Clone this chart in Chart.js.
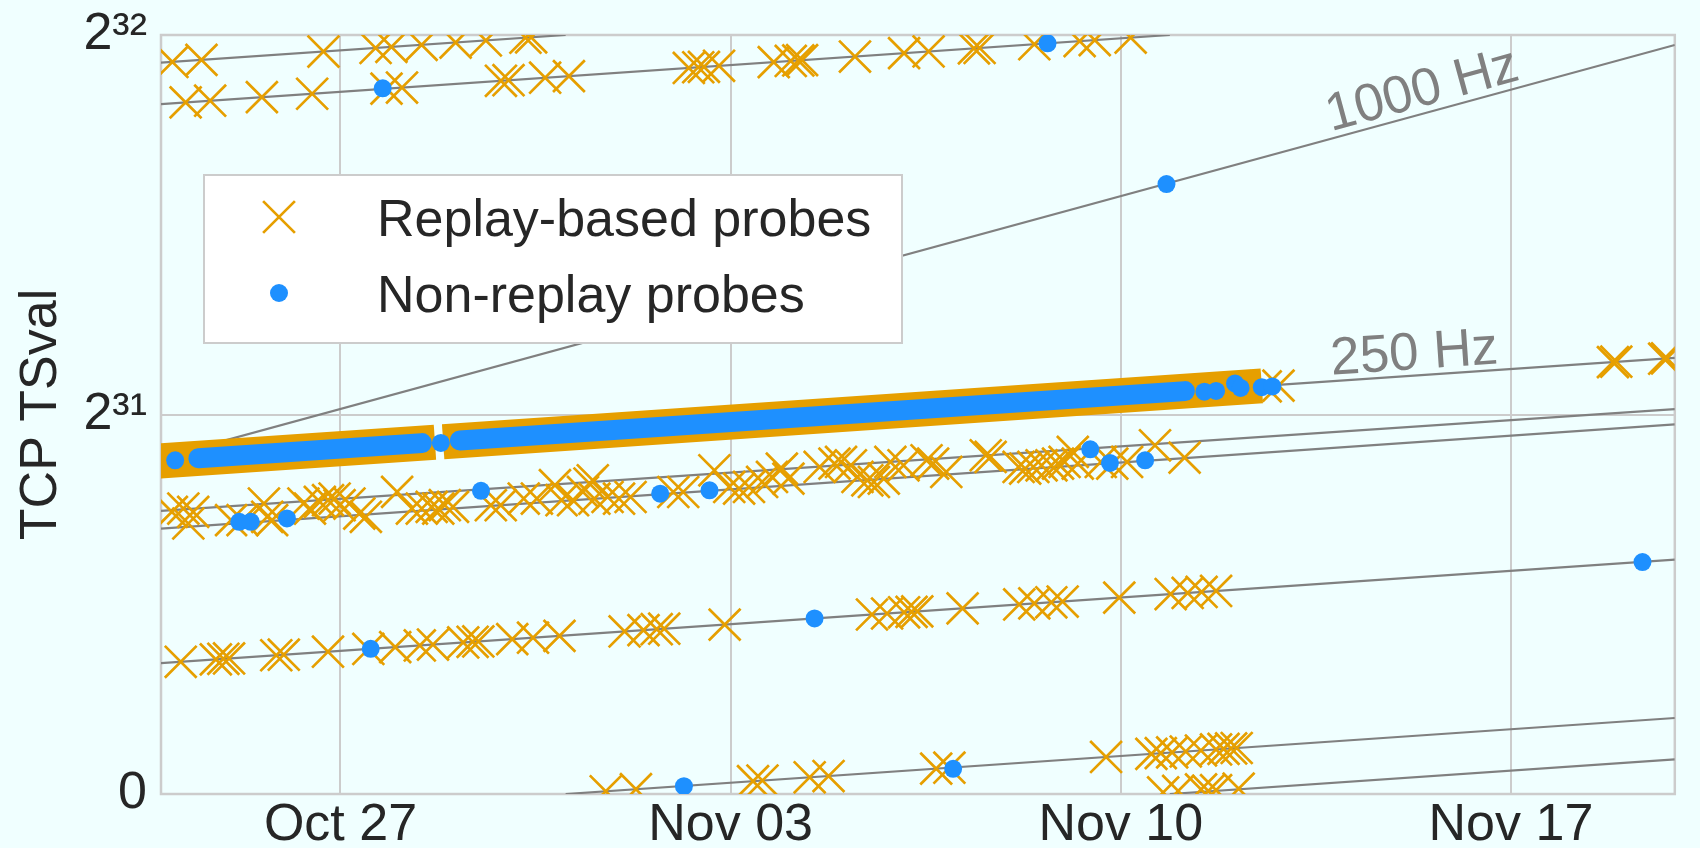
<!DOCTYPE html>
<html>
<head>
<meta charset="utf-8">
<script src="https://cdn.jsdelivr.net/npm/chart.js@4.4.1/dist/chart.umd.min.js"></script>
<style>
  html, body { margin: 0; padding: 0; background: #f0ffff; }
  #wrap { width: 1700px; height: 848px; }
</style>
</head>
<body>
<div id="wrap"><canvas id="tsChart" width="1700" height="848"></canvas></div>
<script>
// x = days since Oct 27 00:00, y = TSval as a fraction of 2^32
const xRange = [-3.22, 23.94];
const xTickDays = [0, 7, 14, 21];
const xTickLabels = ["Oct 27", "Nov 03", "Nov 10", "Nov 17"];
const yTickValues = [0, 0.5, 1];
const yTickLabels = ["0", "2³¹", "2³²"];

// fitted clock lines: [startDay, startVal, endDay, endVal]
const clockLines = [
  [-3.22, 0.9635, 4.04, 1.0],
  [4.04, 0.0, 23.94, 0.1001],
  [-3.22, 0.9090, 14.88, 1.0],
  [14.88, 0.0, 23.94, 0.0455],
  [-3.22, 0.4389, 23.94, 0.5747],  // 250 Hz
  [-3.22, 0.3729, 23.94, 0.5070],
  [-3.22, 0.3496, 23.94, 0.4870],
  [-3.22, 0.1724, 23.94, 0.3088],
  [-3.22, 0.4428, 23.94, 0.9868]   // 1000 Hz
];

// the dense stream of probes along the 250 Hz line
const replayBand = [[-3.4, 0.438, 1.695, 0.4635], [1.842, 0.4642, 16.53, 0.5377]];
const nonReplayBand = [[-2.55, 0.4423, 1.46, 0.4623], [2.14, 0.4657, 15.15, 0.5308]];

// replay-based probes [day, TSval/2^32]
const replayTop = [
  [-3.015, 0.9645], [-2.494, 0.9672], [-0.305, 0.9782], [0.630, 0.9829], [0.914, 0.9843],
  [1.456, 0.9870], [2.066, 0.9901], [2.608, 0.9928], [3.319, 0.9964], [3.421, 0.9969],
  [-2.778, 0.9112], [-2.338, 0.9134], [-1.410, 0.9181], [-0.508, 0.9226], [0.826, 0.9294],
  [1.104, 0.9308], [2.879, 0.9397], [3.015, 0.9404], [3.672, 0.9437], [4.099, 0.9458],
  [6.250, 0.9566], [6.419, 0.9575], [6.521, 0.9580], [6.792, 0.9594], [7.774, 0.9643],
  [8.079, 0.9658], [8.214, 0.9665], [8.282, 0.9669], [9.231, 0.9716], [10.112, 0.9761],
  [10.552, 0.9783], [11.365, 0.9824], [11.467, 0.9829], [12.449, 0.9878], [13.262, 0.9919],
  [13.533, 0.9933], [14.177, 0.9965]
];
const replayMiddle = [
  [-3.025, 0.3717], [-2.819, 0.3761], [-2.642, 0.3717], [-2.730, 0.3564], [-1.963, 0.3608],
  [-1.757, 0.3608], [-1.373, 0.3827], [-1.314, 0.3652], [-1.226, 0.3608], [-0.665, 0.3827],
  [-0.547, 0.3761], [-0.370, 0.3849], [-0.223, 0.3871], [-0.105, 0.3893], [-0.016, 0.3805],
  [0.161, 0.3827], [0.338, 0.3695], [0.456, 0.3652], [1.016, 0.3981], [1.282, 0.3761],
  [1.459, 0.3761], [1.636, 0.3783], [1.754, 0.3761], [1.872, 0.3805], [2.019, 0.3783],
  [2.698, 0.3805], [2.875, 0.3805], [3.288, 0.3893], [3.524, 0.3893], [3.848, 0.4068],
  [3.966, 0.3871], [4.173, 0.3871], [4.350, 0.3981], [4.468, 0.4090],
  [4.527, 0.4133], [4.556, 0.3891], [4.792, 0.3913], [4.998, 0.3891], [5.205, 0.3913],
  [5.972, 0.3979], [6.149, 0.3979], [6.709, 0.4265], [6.975, 0.4045], [7.152, 0.4023],
  [7.329, 0.4045], [7.565, 0.4111], [7.742, 0.4177], [7.919, 0.4287], [8.037, 0.4155],
  [8.597, 0.4309], [8.863, 0.4353], [8.981, 0.4375], [9.158, 0.4331], [9.276, 0.4177],
  [9.453, 0.4133], [9.571, 0.4111], [9.748, 0.4155], [9.866, 0.4375], [10.102, 0.4331],
  [10.515, 0.4397], [10.633, 0.4353], [10.869, 0.4243], [11.577, 0.4463], [11.665, 0.4441],
  [12.167, 0.4309], [12.285, 0.4287], [12.431, 0.4309], [12.579, 0.4331], [12.756, 0.4331],
  [12.874, 0.4353], [12.992, 0.4375], [13.139, 0.4507], [13.228, 0.4353], [13.641, 0.4375],
  [13.847, 0.4353], [14.113, 0.4375], [14.614, 0.4594], [15.145, 0.4432],
  [16.60, 0.5370], [16.83, 0.5380],
  [22.83, 0.5690], [22.89, 0.5696], [23.75, 0.5735], [23.80, 0.5740]
];
const replayLower = [
  [-2.866, 0.1742], [-2.236, 0.1774], [-2.101, 0.1781], [-1.999, 0.1786], [-1.152, 0.1828],
  [-1.017, 0.1835], [-0.224, 0.1875], [0.500, 0.1911], [0.982, 0.1935], [1.423, 0.1957],
  [1.660, 0.1969], [2.202, 0.1997], [2.371, 0.2005], [2.473, 0.2010], [3.082, 0.2041],
  [3.455, 0.2059], [3.929, 0.2083], [5.098, 0.2142], [5.437, 0.2159], [5.674, 0.2171],
  [5.809, 0.2178], [6.893, 0.2232], [9.536, 0.2365], [9.807, 0.2378], [10.112, 0.2394],
  [10.247, 0.2400], [10.349, 0.2406], [11.162, 0.2446], [12.178, 0.2497], [12.449, 0.2511],
  [12.754, 0.2526], [12.957, 0.2536], [13.973, 0.2587], [14.895, 0.2634], [15.200, 0.2649],
  [15.450, 0.2662], [15.710, 0.2675]
];
const replayBottom = [
  [4.759, 0.0036], [5.301, 0.0063], [7.402, 0.0169], [7.571, 0.0178], [8.418, 0.0220],
  [8.757, 0.0237], [10.688, 0.0334], [10.925, 0.0346], [13.736, 0.0488], [14.549, 0.0529],
  [14.718, 0.0538], [14.922, 0.0548], [15.166, 0.0560], [15.438, 0.0573], [15.709, 0.0587],
  [15.844, 0.0594], [15.980, 0.0600], [16.080, 0.0606],
  [14.76, 0.002], [15.03, 0.004], [15.44, 0.006], [15.57, 0.004], [15.71, 0.005], [16.115, 0.007]
];

// non-replay probes [day, TSval/2^32]
const nonReplayProbes = [
  [0.758, 0.9297], [12.686, 0.9890], [14.82, 0.8036],
  [-2.966, 0.4397], [1.801, 0.4625], [15.50, 0.5300], [15.71, 0.5310], [16.05, 0.5410],
  [16.15, 0.5350], [16.53, 0.5360], [16.72, 0.5370],
  [-1.816, 0.3586], [-1.609, 0.3586], [-0.960, 0.3630], [2.521, 0.3994], [5.736, 0.3957],
  [6.621, 0.4001], [13.452, 0.4542], [13.806, 0.4362], [14.437, 0.4397],
  [0.542, 0.1913], [8.506, 0.2313], [23.36, 0.3056],
  [6.162, 0.0103], [10.992, 0.0332]
];

const ORANGE = "#e69f00";
const BLUE = "#1e90ff";
const GRID = "#cccccc";
const LINE_GRAY = "#808080";
const TEXT = "#262626";
const FONT = "'Liberation Sans', Arial, sans-serif";

Chart.defaults.font.family = FONT;
Chart.defaults.color = TEXT;

const toPts = (arr) => arr.map(([x, y]) => ({ x, y }));
const segPts = (s) => [{ x: s[0], y: s[1] }, { x: s[2], y: s[3] }];

const datasets = [];
datasets.push({
  label: "Non-replay probes",
  data: toPts(nonReplayProbes),
  pointStyle: "circle",
  pointRadius: 9,
  pointBackgroundColor: BLUE,
  pointBorderWidth: 0,
  showLine: false,
  order: 0,
  clip: 0
});
nonReplayBand.forEach((s) => datasets.push({
  data: segPts(s), showLine: true, borderColor: BLUE, borderWidth: 20,
  borderCapStyle: "round", pointRadius: 0, order: 1, clip: 0
}));
datasets.push({
  label: "Replay-based probes",
  data: toPts([...replayTop, ...replayMiddle, ...replayLower, ...replayBottom]),
  pointStyle: "crossRot",
  pointRadius: 22.5,
  pointBorderColor: ORANGE,
  pointBackgroundColor: ORANGE,
  pointBorderWidth: 2.7,
  showLine: false,
  order: 2,
  clip: 0
});
replayBand.forEach((s) => datasets.push({
  data: segPts(s), showLine: true, borderColor: ORANGE, borderWidth: 35,
  borderCapStyle: "butt", pointRadius: 0, order: 3, clip: 0
}));
clockLines.forEach((s) => datasets.push({
  data: segPts(s), showLine: true, borderColor: LINE_GRAY, borderWidth: 2.2,
  pointRadius: 0, order: 4, clip: 0
}));

// labels for the clock rates, placed along their lines
const rateLabels = [
  { text: "1000 Hz", day: 19.39, val: 0.9315, line: 8 },
  { text: "250 Hz", day: 19.26, val: 0.5847, line: 4 }
];

const decor = {
  id: "decor",
  beforeDraw(chart) {
    const { ctx, width, height } = chart;
    ctx.save();
    ctx.fillStyle = "#f0ffff";
    ctx.fillRect(0, 0, width, height);
    ctx.restore();
  },
  beforeDatasetsDraw(chart) {
    const { ctx, chartArea: a } = chart;
    ctx.save();
    ctx.strokeStyle = GRID;
    ctx.lineWidth = 2.5;
    ctx.strokeRect(a.left, a.top, a.right - a.left, a.bottom - a.top);
    ctx.restore();
  },
  afterDatasetsDraw(chart) {
    const { ctx, chartArea: a } = chart;
    const xs = chart.scales.x, ys = chart.scales.y;

    // rate labels
    rateLabels.forEach((r) => {
      const l = clockLines[r.line];
      const ang = Math.atan2(
        ys.getPixelForValue(l[3]) - ys.getPixelForValue(l[1]),
        xs.getPixelForValue(l[2]) - xs.getPixelForValue(l[0])
      );
      ctx.save();
      ctx.translate(xs.getPixelForValue(r.day), ys.getPixelForValue(r.val));
      ctx.rotate(ang);
      ctx.font = "53px " + FONT;
      ctx.fillStyle = LINE_GRAY;
      ctx.textAlign = "center";
      ctx.textBaseline = "alphabetic";
      ctx.fillText(r.text, 0, 19);
      ctx.restore();
    });

    // legend box
    const bx = a.left + 43, by = a.top + 140, bw = 698, bh = 168;
    ctx.save();
    ctx.fillStyle = "#ffffff";
    ctx.fillRect(bx, by, bw, bh);
    ctx.strokeStyle = GRID;
    ctx.lineWidth = 2;
    ctx.strokeRect(bx, by, bw, bh);

    const mx = bx + 75, y1 = by + 42, y2 = by + 118;
    const h = 22.5 * Math.SQRT1_2;
    ctx.strokeStyle = ORANGE;
    ctx.lineWidth = 2.7;
    ctx.beginPath();
    ctx.moveTo(mx - h, y1 - h); ctx.lineTo(mx + h, y1 + h);
    ctx.moveTo(mx + h, y1 - h); ctx.lineTo(mx - h, y1 + h);
    ctx.stroke();
    ctx.fillStyle = BLUE;
    ctx.beginPath();
    ctx.arc(mx, y2, 9, 0, Math.PI * 2);
    ctx.fill();

    ctx.fillStyle = TEXT;
    ctx.font = "52px " + FONT;
    ctx.textAlign = "left";
    ctx.textBaseline = "alphabetic";
    ctx.fillText("Replay-based probes", bx + 173, y1 + 19);
    ctx.fillText("Non-replay probes", bx + 173, y2 + 19);
    ctx.restore();
  }
};

new Chart(document.getElementById("tsChart"), {
  type: "scatter",
  data: { datasets: datasets },
  options: {
    responsive: false,
    animation: false,
    events: [],
    layout: { padding: { top: 35, right: 5, left: 0, bottom: 0 } },
    plugins: {
      legend: { display: false },
      tooltip: { enabled: false }
    },
    scales: {
      x: {
        type: "linear",
        min: xRange[0],
        max: xRange[1],
        afterBuildTicks: (s) => { s.ticks = xTickDays.map((v) => ({ value: v })); },
        afterFit: (s) => { s.height = 54; s.paddingLeft = 0; s.paddingRight = 0; },
        grid: { color: GRID, lineWidth: 2, drawTicks: false },
        border: { display: false },
        ticks: {
          autoSkip: false,
          maxRotation: 0,
          padding: 0,
          font: { size: 52 },
          color: TEXT,
          callback: (v) => xTickLabels[xTickDays.indexOf(v)]
        }
      },
      y: {
        type: "linear",
        min: 0,
        max: 1,
        afterBuildTicks: (s) => { s.ticks = yTickValues.map((v) => ({ value: v })); },
        afterFit: (s) => { s.width = 161; s.paddingTop = 0; s.paddingBottom = 0; },
        grid: { color: GRID, lineWidth: 2, drawTicks: false },
        border: { display: false },
        title: {
          display: true,
          text: "TCP TSval",
          font: { size: 52 },
          color: TEXT,
          padding: { top: 10, bottom: 0 }
        },
        ticks: {
          autoSkip: false,
          padding: 14,
          font: { size: 52 },
          color: TEXT,
          callback: (v) => yTickLabels[yTickValues.indexOf(v)]
        }
      }
    }
  },
  plugins: [decor]
});
</script>
</body>
</html>
